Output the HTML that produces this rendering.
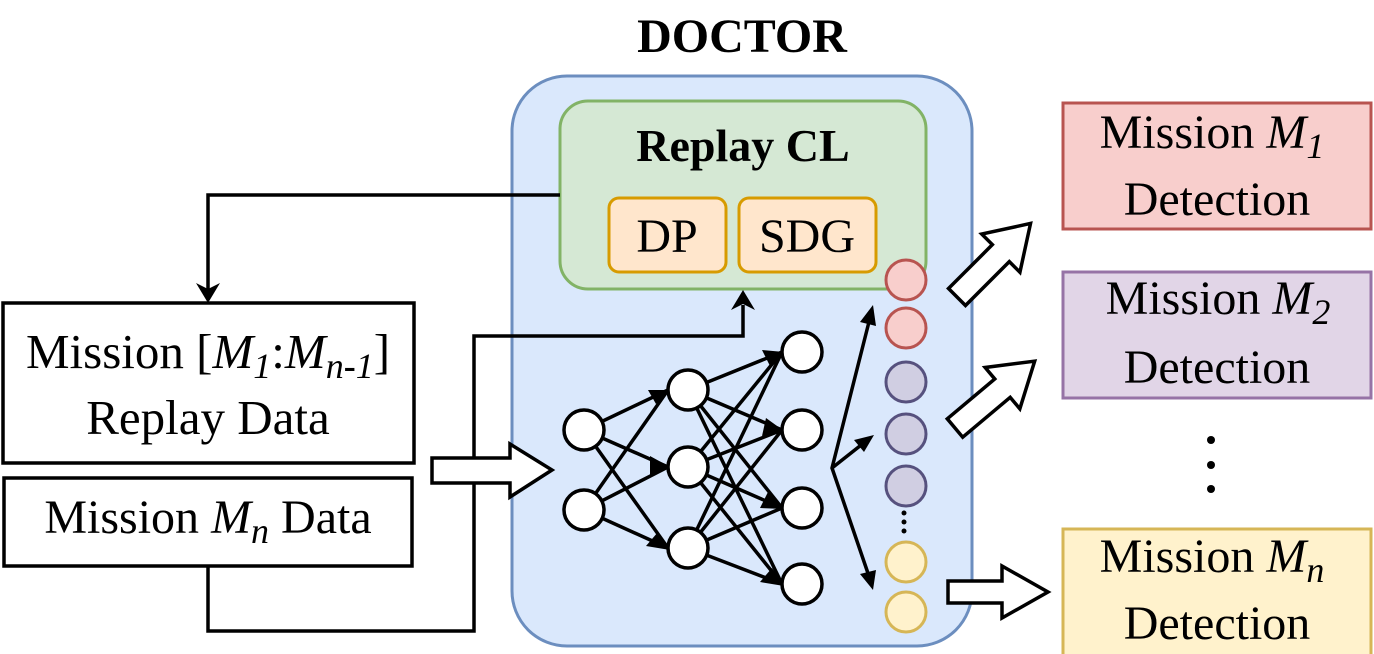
<!DOCTYPE html>
<html><head><meta charset="utf-8"><style>
html,body{margin:0;padding:0;background:#fff;}
svg{display:block;}
text{font-family:"Liberation Serif","Times New Roman",serif;}
</style></head><body>
<svg width="1374" height="654" viewBox="0 0 1374 654" xmlns="http://www.w3.org/2000/svg" font-family="Liberation Serif, serif">
<text x="742" y="52" font-size="48" font-weight="bold" text-anchor="middle" font-family="Liberation Serif, serif">DOCTOR</text>
<rect x="512" y="76" width="460" height="570" rx="55" fill="#dae8fc" stroke="#6c8ebf" stroke-width="3"/>
<rect x="560" y="101" width="366" height="188" rx="28" fill="#d5e8d4" stroke="#82b366" stroke-width="3"/>
<text x="743" y="161" font-size="46" font-weight="bold" text-anchor="middle" font-family="Liberation Serif, serif">Replay CL</text>
<rect x="609" y="198" width="117" height="74" rx="10" fill="#ffe6cc" stroke="#d79b00" stroke-width="3"/>
<text x="667" y="252" font-size="48" text-anchor="middle" font-family="Liberation Serif, serif">DP</text>
<rect x="739" y="198" width="137" height="74" rx="10" fill="#ffe6cc" stroke="#d79b00" stroke-width="3"/>
<text x="807" y="252" font-size="48" text-anchor="middle" font-family="Liberation Serif, serif">SDG</text>

<rect x="3" y="303" width="411" height="160" fill="#fff" stroke="#000" stroke-width="3.5"/>
<text x="208" y="368" font-size="49" text-anchor="middle" font-family="Liberation Serif, serif">Mission [<tspan font-style="italic">M</tspan><tspan font-style="italic" font-size="36" dy="10">1</tspan><tspan dy="-10">:</tspan><tspan font-style="italic">M</tspan><tspan font-style="italic" font-size="36" dy="10">n</tspan><tspan font-size="36" font-weight="bold">-</tspan><tspan font-style="italic" font-size="36">1</tspan><tspan dy="-10">]</tspan></text>
<text x="208" y="434" font-size="49" text-anchor="middle" font-family="Liberation Serif, serif">Replay Data</text>
<rect x="4" y="478" width="408" height="88" fill="#fff" stroke="#000" stroke-width="3.5"/>
<text x="208" y="533" font-size="48" text-anchor="middle" font-family="Liberation Serif, serif">Mission <tspan font-style="italic">M</tspan><tspan font-style="italic" font-size="36" dy="10">n</tspan><tspan dy="-10"> Data</tspan></text>

<g fill="none" stroke="#000" stroke-width="3.5">
<polyline points="560,195 208,195 208,290"/>
<polyline points="208,566 208,631 474,631 474,336 743,336 743,305"/>
</g>
<polygon points="196,283 208,303 220,283 208,289" fill="#000"/>
<polygon points="731,310 743,290 755,310 743,304" fill="#000"/>

<polygon points="432,458 510,458 510,444 552,470 510,497 510,483 432,483" fill="#fff" stroke="#000" stroke-width="3.5"/>

<g stroke="#000" stroke-width="3.5" fill="none">
<line x1="584" y1="430" x2="668" y2="390"/><line x1="584" y1="430" x2="668" y2="467"/><line x1="584" y1="430" x2="668" y2="548"/>
<line x1="584" y1="510" x2="668" y2="390"/><line x1="584" y1="510" x2="668" y2="467"/><line x1="584" y1="510" x2="668" y2="548"/>
<line x1="688" y1="390" x2="782" y2="352"/><line x1="688" y1="390" x2="782" y2="430"/><line x1="688" y1="390" x2="782" y2="508"/><line x1="688" y1="390" x2="782" y2="584"/>
<line x1="688" y1="467" x2="782" y2="352"/><line x1="688" y1="467" x2="782" y2="430"/><line x1="688" y1="467" x2="782" y2="508"/><line x1="688" y1="467" x2="782" y2="584"/>
<line x1="688" y1="548" x2="782" y2="352"/><line x1="688" y1="548" x2="782" y2="430"/><line x1="688" y1="548" x2="782" y2="508"/><line x1="688" y1="548" x2="782" y2="584"/>
<polyline points="872,310 832,468 872,585"/>
<line x1="832" y1="468" x2="870" y2="438"/>
</g>
<g fill="#000">
<polygon points="670,390 648,390 656,404"/><polygon points="670,467 650,456 650,476"/><polygon points="670,550 658,532 646,546"/>
<polygon points="784,352 762,350 770,366"/><polygon points="784,431 766,418 762,436"/><polygon points="784,509 768,492 760,508"/><polygon points="784,586 772,568 760,582"/>
<polygon points="873,305 860,322 876,326"/><polygon points="874,435 854,440 864,452"/><polygon points="873,590 876,570 860,574"/>
</g>
<g fill="#fff" stroke="#000" stroke-width="3.5">
<circle cx="584" cy="430" r="20"/><circle cx="584" cy="510" r="20"/>
<circle cx="688" cy="390" r="20"/><circle cx="688" cy="467" r="20"/><circle cx="688" cy="548" r="20"/>
<circle cx="802" cy="352" r="20"/><circle cx="802" cy="430" r="20"/><circle cx="802" cy="508" r="20"/><circle cx="802" cy="584" r="20"/>
</g>
<g stroke-width="3">
<circle cx="906" cy="280" r="20" fill="#f8cecc" stroke="#b85450"/>
<circle cx="906" cy="328" r="20" fill="#f8cecc" stroke="#b85450"/>
<circle cx="906" cy="382" r="20" fill="#d0cee2" stroke="#56517e"/>
<circle cx="906" cy="434" r="20" fill="#d0cee2" stroke="#56517e"/>
<circle cx="906" cy="486" r="20" fill="#d0cee2" stroke="#56517e"/>
<circle cx="906" cy="562" r="20" fill="#fff2cc" stroke="#d6b656"/>
<circle cx="906" cy="612" r="20" fill="#fff2cc" stroke="#d6b656"/>
</g>
<g fill="#000"><circle cx="904" cy="513" r="2.5"/><circle cx="904" cy="522" r="2.5"/><circle cx="904" cy="531" r="2.5"/></g>

<g fill="#fff" stroke="#000" stroke-width="3.5">
<polygon points="0,-12 62,-12 62,-27 104,0 62,27 62,12 0,12" transform="translate(957,297) rotate(-45)"/>
<polygon points="0,-12 62,-12 62,-27 104,0 62,27 62,12 0,12" transform="translate(955,428) rotate(-40)"/>
<polygon points="948,581 1002,581 1002,566 1048,592 1002,618 1002,603 948,603"/>
</g>

<rect x="1063" y="103" width="308" height="126" fill="#f8cecc" stroke="#b85450" stroke-width="3"/>
<text x="1212" y="148" font-size="48" text-anchor="middle" font-family="Liberation Serif, serif">Mission <tspan font-style="italic">M</tspan><tspan font-style="italic" font-size="36" dy="10">1</tspan></text>
<text x="1217" y="215" font-size="48" text-anchor="middle" font-family="Liberation Serif, serif">Detection</text>
<rect x="1063" y="272" width="308" height="126" fill="#e1d5e7" stroke="#9673a6" stroke-width="3"/>
<text x="1218" y="314" font-size="48" text-anchor="middle" font-family="Liberation Serif, serif">Mission <tspan font-style="italic">M</tspan><tspan font-style="italic" font-size="36" dy="10">2</tspan></text>
<text x="1217" y="383" font-size="48" text-anchor="middle" font-family="Liberation Serif, serif">Detection</text>
<g fill="#000"><circle cx="1211" cy="440" r="4"/><circle cx="1211" cy="465" r="4"/><circle cx="1211" cy="489" r="4"/></g>
<rect x="1063" y="529" width="308" height="130" fill="#fff2cc" stroke="#d6b656" stroke-width="3"/>
<text x="1212" y="572" font-size="48" text-anchor="middle" font-family="Liberation Serif, serif">Mission <tspan font-style="italic">M</tspan><tspan font-style="italic" font-size="36" dy="10">n</tspan></text>
<text x="1217" y="639" font-size="48" text-anchor="middle" font-family="Liberation Serif, serif">Detection</text>
</svg>
</body></html>
